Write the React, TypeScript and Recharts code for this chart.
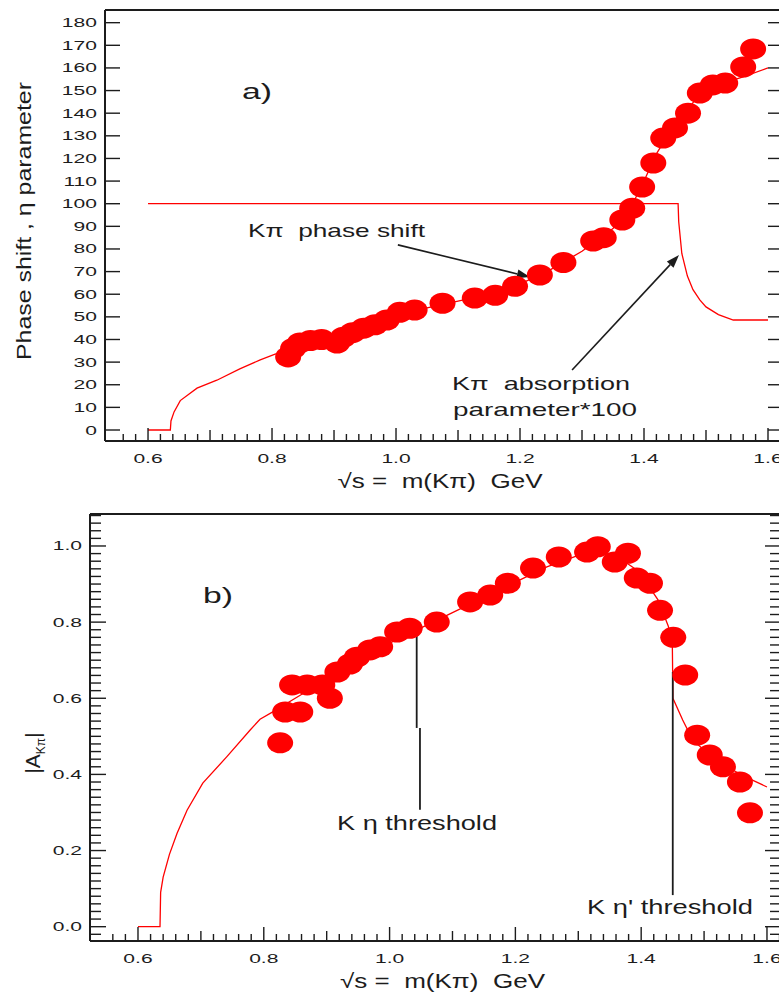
import React from 'react';
import { ComposedChart, Line, Scatter, XAxis, YAxis, ReferenceLine, ReferenceDot } from 'recharts';

const FONT = '"Liberation Sans", Arial, Helvetica, sans-serif';
const INK = '#1c1c1c';
const RED = '#ff0000';

// panel a) phase shift measurements: mass (GeV), phase (deg)
const phaseMass = [0.826, 0.834, 0.845, 0.862, 0.88, 0.905, 0.915, 0.93, 0.948, 0.966, 0.985, 1.006, 1.03, 1.075, 1.127, 1.16, 1.192, 1.232, 1.27, 1.318, 1.335, 1.365, 1.381, 1.397, 1.415, 1.431, 1.45, 1.471, 1.49, 1.511, 1.531, 1.56, 1.576];
const phaseDeg = [32.3, 36, 38.5, 39.5, 40, 38.4, 41, 43, 45, 46.5, 48.6, 52, 53, 56, 58.3, 59.5, 63.5, 68.5, 74, 83.5, 85, 92.8, 98, 107.4, 118, 129, 133.5, 140, 148.9, 152.5, 153.3, 160.4, 168.4];

// panel a) model curves
const phaseFitMass = [0.6, 0.636, 0.637, 0.642, 0.652, 0.679, 0.711, 0.748, 0.781, 0.805, 0.85, 0.9, 0.95, 1.0, 1.05, 1.1, 1.15, 1.2, 1.25, 1.3, 1.35, 1.38, 1.4, 1.42, 1.44, 1.46, 1.48, 1.5, 1.53, 1.56, 1.6];
const phaseFitDeg = [0, 0, 4, 8, 13, 18.5, 22, 27, 31, 33.5, 37, 40.5, 44.5, 49.5, 54, 57, 60, 64.5, 71, 79, 89, 99, 110, 122, 131, 138, 145, 150, 153.5, 156, 160];
const absorbMass = [0.6, 1.455, 1.456, 1.461, 1.47, 1.479, 1.49, 1.5, 1.52, 1.544, 1.6];
const absorbVal = [100, 100, 92, 78, 68, 62, 57.5, 54.4, 51, 48.6, 48.6];

// panel b) |A| measurements
const ampMass = [0.826, 0.834, 0.858, 0.845, 0.869, 0.893, 0.905, 0.917, 0.937, 0.948, 0.969, 0.985, 1.012, 1.032, 1.075, 1.128, 1.16, 1.188, 1.228, 1.269, 1.314, 1.331, 1.358, 1.379, 1.393, 1.414, 1.43, 1.451, 1.47, 1.489, 1.509, 1.53, 1.557, 1.573];
const ampVal = [0.483, 0.564, 0.564, 0.635, 0.635, 0.635, 0.6, 0.669, 0.69, 0.708, 0.727, 0.735, 0.774, 0.784, 0.8, 0.853, 0.871, 0.902, 0.942, 0.971, 0.984, 0.998, 0.958, 0.981, 0.916, 0.902, 0.831, 0.76, 0.661, 0.503, 0.451, 0.42, 0.38, 0.299];

// panel b) model curve
const ampFitMass = [0.6, 0.635, 0.636, 0.64, 0.65, 0.662, 0.678, 0.703, 0.741, 0.778, 0.794, 0.815, 0.85, 0.9, 0.95, 1.0, 1.05, 1.1, 1.15, 1.2, 1.25, 1.3, 1.33, 1.36, 1.39, 1.41, 1.427, 1.443, 1.4495, 1.4505, 1.466, 1.482, 1.51, 1.536, 1.57, 1.6];
const ampFitVal = [0, 0, 0.09, 0.13, 0.19, 0.245, 0.306, 0.377, 0.446, 0.516, 0.545, 0.565, 0.6, 0.65, 0.7, 0.745, 0.785, 0.825, 0.865, 0.905, 0.945, 0.975, 0.985, 0.975, 0.94, 0.9, 0.858, 0.79, 0.745, 0.6, 0.543, 0.49, 0.45, 0.42, 0.39, 0.367];

// tick labels
const massLabels = [0.6, 0.8, 1.0, 1.2, 1.4, 1.6];
const phaseTicks = [0, 10, 20, 30, 40, 50, 60, 70, 80, 90, 100, 110, 120, 130, 140, 150, 160, 170, 180];
const ampLabels = [0, 0.2, 0.4, 0.6, 0.8, 1.0];

const massTicks: number[] = [];
for (let i = 28; i <= 81; i++) massTicks.push(i / 50);
const ampTicks: number[] = [];
for (let i = -1; i <= 54; i++) ampTicks.push(i / 50);

const toPoints = (xs: number[], ys: number[]) => xs.map((m, i) => ({ m, v: ys[i] }));
const phasePoints = toPoints(phaseMass, phaseDeg);
const phaseFit = toPoints(phaseFitMass, phaseFitDeg);
const absorbFit = toPoints(absorbMass, absorbVal);
const ampPoints = toPoints(ampMass, ampVal);
const ampFit = toPoints(ampFitMass, ampFitVal);

const frame = { stroke: INK, strokeWidth: 2 };

const Stretch = ({ x, y, size, sx, anchor, children }: any) => (
  <text
    transform={`translate(${x},${y}) scale(${sx},1)`}
    fontSize={size}
    fontFamily={FONT}
    fill={INK}
    textAnchor={anchor}
  >
    {children}
  </text>
);

const isLabel = (v: number, list: number[]) => list.some((l) => Math.abs(l - v) < 1e-6);

const xTick = (side: 'top' | 'bottom', lens: number[]) => (props: any) => {
  const { x, y, payload } = props;
  const v = payload.value;
  const k = Math.round(v * 50);
  const len = k % 10 === 0 ? lens[0] : k % 5 === 0 ? lens[1] : lens[2];
  const dir = side === 'bottom' ? -1 : 1;
  return (
    <g>
      <line x1={x} y1={y} x2={x} y2={y + dir * len} stroke={INK} strokeWidth={1.4} />
      {side === 'bottom' && isLabel(v, massLabels) && (
        <Stretch x={x} y={y + 21.5} size={13} sx={1.62} anchor="middle">
          {v.toFixed(1)}
        </Stretch>
      )}
    </g>
  );
};

const yTick = (side: 'left' | 'right', labels: number[] | null, major: number, minor: number, digits: number) => (props: any) => {
  const { x, y, payload } = props;
  const v = payload.value;
  const isMajor = labels ? isLabel(v, labels) : true;
  const len = isMajor ? major : minor;
  const dir = side === 'left' ? 1 : -1;
  return (
    <g>
      <line x1={x} y1={y} x2={x + dir * len} y2={y} stroke={INK} strokeWidth={1.4} />
      {side === 'left' && isMajor && (
        <Stretch x={x - 8} y={y + 4.5} size={13} sx={1.62} anchor="end">
          {v.toFixed(digits)}
        </Stretch>
      )}
    </g>
  );
};

const xTitle = (dx: number) => (props: any) => {
  const vb = props.viewBox;
  return (
    <text
      x={vb.x + vb.width / 2 + dx}
      y={vb.y + 47}
      fontSize={20}
      fontFamily={FONT}
      fill={INK}
      textAnchor="middle"
      textLength={205}
      lengthAdjust="spacingAndGlyphs"
    >
      {'\u221as =\u00a0 m(K\u03c0)\u00a0 GeV'}
    </text>
  );
};

const phaseTitle = (props: any) => {
  const vb = props.viewBox;
  const cx = vb.x + vb.width - 82;
  const cy = vb.y + 211;
  return (
    <text
      transform={`translate(${cx},${cy}) rotate(-90)`}
      fontSize={21}
      fontFamily={FONT}
      fill={INK}
      textAnchor="middle"
      dominantBaseline="central"
      textLength={278}
      lengthAdjust="spacingAndGlyphs"
    >
      {'Phase shift , \u03b7 parameter'}
    </text>
  );
};

const ampTitle = (props: any) => {
  const vb = props.viewBox;
  const cx = vb.x + vb.width - 50;
  const cy = vb.y + 239;
  return (
    <text transform={`translate(${cx},${cy}) rotate(-90)`} fontSize={21} fontFamily={FONT} fill={INK} textAnchor="middle">
      |A
      <tspan fontSize={12} dy={5}>
        K{'\u03c0'}
      </tspan>
      <tspan dy={-5}>|</tspan>
    </text>
  );
};

const Marker = (p: any) => (p.cx == null ? null : <ellipse cx={p.cx} cy={p.cy} rx={13} ry={10.5} fill={RED} />);

const arrow = (p: any) => {
  const { x1, y1, x2, y2 } = p;
  const ang = Math.atan2(y2 - y1, x2 - x1);
  const L = 13;
  const W = 4.5;
  const bx = x2 - L * Math.cos(ang);
  const by = y2 - L * Math.sin(ang);
  const nx = -Math.sin(ang) * W;
  const ny = Math.cos(ang) * W;
  return (
    <g>
      <line x1={x1} y1={y1} x2={bx} y2={by} stroke={INK} strokeWidth={1.6} />
      <polygon points={`${x2},${y2} ${bx + nx},${by + ny} ${bx - nx},${by - ny}`} fill={INK} />
    </g>
  );
};

const plain = (p: any) => <line x1={p.x1} y1={p.y1} x2={p.x2} y2={p.y2} stroke={INK} strokeWidth={1.8} />;

const note = (text: string, size: number, len: number) => (p: any) => (
  <text x={p.cx} y={p.cy} fontSize={size} fontFamily={FONT} fill={INK} textLength={len} lengthAdjust="spacingAndGlyphs">
    {text}
  </text>
);

// axes get 1px boxes: Recharts skips drawing axes with a zero size
const PhasePanel = () => (
  <ComposedChart width={800} height={500} margin={{ top: 9, right: 16, bottom: 58, left: 104 }}>
    <XAxis
      dataKey="m"
      type="number"
      domain={[0.5306, 1.6242]}
      allowDataOverflow
      ticks={massTicks}
      interval={0}
      height={1}
      tickSize={0}
      tickMargin={0}
      tickLine={false}
      axisLine={frame}
      tick={xTick('bottom', [13, 11, 7])}
      label={xTitle(-4)}
    />
    <XAxis
      xAxisId="top"
      orientation="top"
      type="number"
      domain={[0.5306, 1.6242]}
      allowDataOverflow
      ticks={massTicks}
      interval={0}
      height={1}
      tickSize={0}
      tickMargin={0}
      tickLine={false}
      axisLine={frame}
      tick={xTick('top', [13, 11, 7])}
    />
    <YAxis
      type="number"
      domain={[-4.86, 185.6]}
      allowDataOverflow
      ticks={phaseTicks}
      interval={0}
      width={1}
      tickSize={0}
      tickMargin={0}
      tickLine={false}
      axisLine={frame}
      tick={yTick('left', null, 15, 15, 0)}
      label={phaseTitle}
    />
    <YAxis
      yAxisId="right"
      orientation="right"
      type="number"
      domain={[-4.86, 185.6]}
      allowDataOverflow
      ticks={phaseTicks}
      interval={0}
      width={1}
      tickSize={0}
      tickMargin={0}
      tickLine={false}
      axisLine={frame}
      tick={yTick('right', null, 15, 15, 0)}
    />
    <Line data={phaseFit} dataKey="v" type="linear" dot={false} stroke={RED} strokeWidth={1.3} isAnimationActive={false} />
    <Line data={absorbFit} dataKey="v" type="linear" dot={false} stroke={RED} strokeWidth={1.3} isAnimationActive={false} />
    <Scatter data={phasePoints} dataKey="v" shape={Marker} isAnimationActive={false} />
    <ReferenceLine segment={[{ x: 1.003, y: 81.8 }, { x: 1.216, y: 67.6 }]} shape={arrow} />
    <ReferenceLine segment={[{ x: 1.284, y: 26.5 }, { x: 1.4565, y: 77.3 }]} shape={arrow} />
    <ReferenceDot x={0.7516} y={146.3} r={0} shape={note('a)', 22, 30)} />
    <ReferenceDot x={0.7613} y={85.3} r={0} shape={note('K\u03c0\u00a0 phase shift', 19, 177)} />
    <ReferenceDot x={1.0903} y={17.7} r={0} shape={note('K\u03c0\u00a0 absorption', 19, 178)} />
    <ReferenceDot x={1.0919} y={6.2} r={0} shape={note('parameter*100', 19, 184)} />
  </ComposedChart>
);

const AmplitudePanel = () => (
  <ComposedChart width={800} height={494} margin={{ top: 13, right: 18, bottom: 52, left: 89 }}>
    <XAxis
      dataKey="m"
      type="number"
      domain={[0.5237, 1.6223]}
      allowDataOverflow
      ticks={massTicks}
      interval={0}
      height={1}
      tickSize={0}
      tickMargin={0}
      tickLine={false}
      axisLine={frame}
      tick={xTick('bottom', [14, 10, 7])}
      label={xTitle(7)}
    />
    <XAxis
      xAxisId="top"
      orientation="top"
      type="number"
      domain={[0.5237, 1.6223]}
      allowDataOverflow
      ticks={massTicks}
      interval={0}
      height={1}
      tickSize={0}
      tickMargin={0}
      tickLine={false}
      axisLine={frame}
      tick={xTick('top', [13, 10, 7])}
    />
    <YAxis
      type="number"
      domain={[-0.0376, 1.084]}
      allowDataOverflow
      ticks={ampTicks}
      interval={0}
      width={1}
      tickSize={0}
      tickMargin={0}
      tickLine={false}
      axisLine={frame}
      tick={yTick('left', ampLabels, 16, 11, 1)}
      label={ampTitle}
    />
    <YAxis
      yAxisId="right"
      orientation="right"
      type="number"
      domain={[-0.0376, 1.084]}
      allowDataOverflow
      ticks={ampTicks}
      interval={0}
      width={1}
      tickSize={0}
      tickMargin={0}
      tickLine={false}
      axisLine={frame}
      tick={yTick('right', ampLabels, 16, 11, 1)}
    />
    <Line data={ampFit} dataKey="v" type="linear" dot={false} stroke={RED} strokeWidth={1.3} isAnimationActive={false} />
    <Scatter data={ampPoints} dataKey="v" shape={Marker} isAnimationActive={false} />
    <ReferenceLine segment={[{ x: 1.0431, y: 0.771 }, { x: 1.0431, y: 0.522 }]} shape={plain} />
    <ReferenceLine segment={[{ x: 1.0483, y: 0.522 }, { x: 1.0483, y: 0.307 }]} shape={plain} />
    <ReferenceLine segment={[{ x: 1.4502, y: 0.669 }, { x: 1.4502, y: 0.083 }]} shape={plain} />
    <ReferenceDot x={0.7033} y={0.85} r={0} shape={note('b)', 22, 30)} />
    <ReferenceDot x={0.9164} y={0.254} r={0} shape={note('K \u03b7 threshold', 20, 160)} />
    <ReferenceDot x={1.3138} y={0.0333} r={0} shape={note("K \u03b7' threshold", 20, 166)} />
  </ComposedChart>
);

export default function App() {
  return (
    <div style={{ position: 'fixed', left: 0, top: 0, width: 779, height: 994, overflow: 'hidden', background: '#fff' }}>
      <PhasePanel />
      <AmplitudePanel />
    </div>
  );
}
